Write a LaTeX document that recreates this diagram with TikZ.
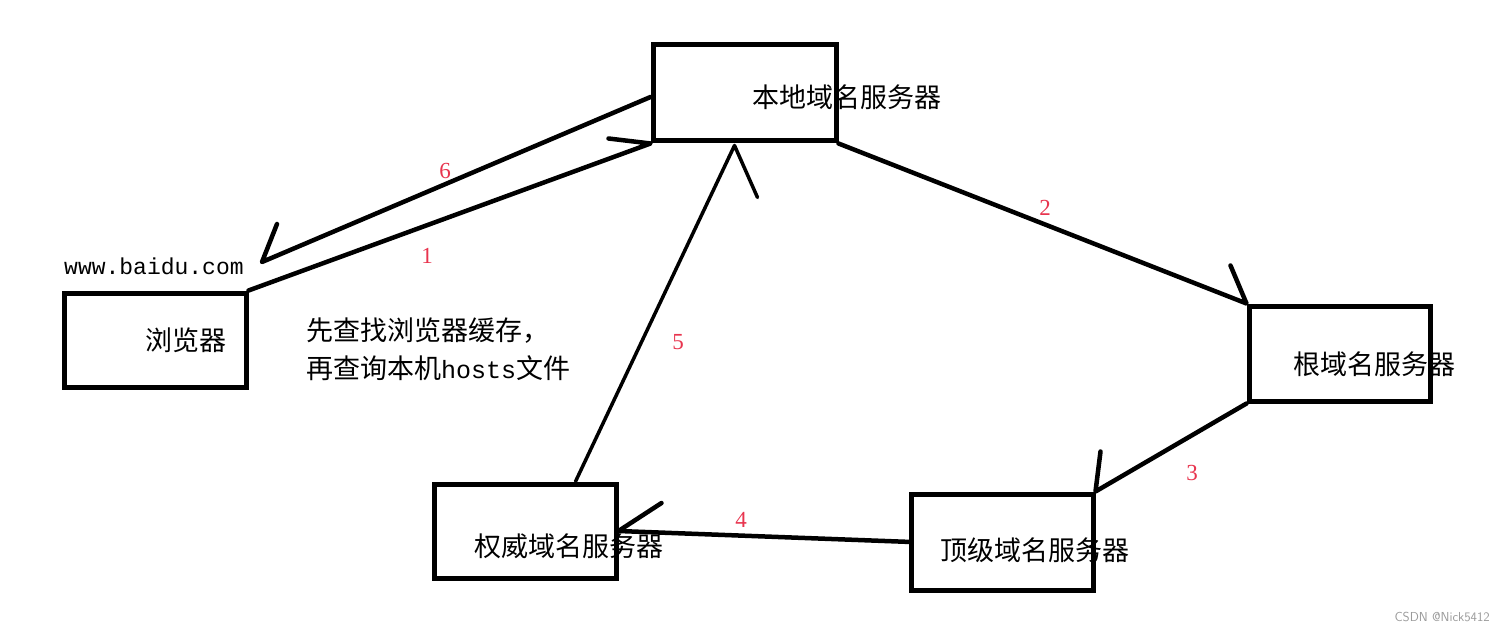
\documentclass[tikz,border=0pt]{standalone}
\usepackage{fontspec}
\setmainfont{Liberation Serif}
\newfontfamily\cjk{Noto Sans CJK SC}
\newfontfamily\monof{Liberation Mono}
\definecolor{numred}{HTML}{E8344E}
\definecolor{wmgray}{HTML}{9A9A9A}
\begin{document}
\begin{tikzpicture}[x=1pt,y=-1pt,
  box/.style={draw=black,line width=5pt,rectangle,inner sep=0pt},
  conn/.style={draw=black,line width=4.5pt,line cap=round,line join=round},
  thinconn/.style={draw=black,line width=3.5pt,line cap=round,line join=round},
  lbl/.style={font=\cjk\fontsize{27}{31}\selectfont,anchor=west,inner sep=0pt},
  num/.style={font=\fontsize{23}{25}\selectfont,text=numred,inner sep=0pt}]
\useasboundingbox[fill=white] (0,0) rectangle (1504,631);

% boxes
\node[box,minimum width=182pt,minimum height=94pt] (browser) at (155,340) {};
\node[box,minimum width=183pt,minimum height=96pt] (local) at (744.5,93) {};
\node[box,minimum width=181pt,minimum height=95pt] (root) at (1339.5,353.5) {};
\node[box,minimum width=182pt,minimum height=94pt] (auth) at (525,531) {};
\node[box,minimum width=182pt,minimum height=96pt] (tld) at (1002,542) {};

% box texts
\node[lbl] (tlocal) at (752,97) {本地域名服务器};
\node[lbl] (tbrowser) at (145,340) {浏览器};
\node[lbl] (troot) at (1293,364) {根域名服务器};
\node[lbl] (tauth) at (474,546) {权威域名服务器};
\node[lbl] (ttld) at (940,550) {顶级域名服务器};

% other texts
\node[font=\monof\fontsize{23}{26}\selectfont,anchor=west,inner sep=0pt] (url) at (64,266) {www.baidu.com};
\node[lbl] (note1) at (306,331) {先查找浏览器缓存，};
\node[lbl] (note2) at (306,368) {再查询本机{\monof\fontsize{25}{29}\selectfont hosts}文件};

% connectors
\coordinate (c6) at (262,262);
\draw[conn] (browser.north east) -- (local.south west) -- ++(-42,-5);
\draw[conn] (local.south east) -- (root.north west) -- ++(-16,-38);
\draw[conn] (root.south west) -- (tld.north east) -- ++(5,-40);
\draw[conn] ([xshift=3pt]tld.west) -- (auth.east) -- ++(43,-28);
\draw[thinconn] ([xshift=-43pt]auth.north east) -- ([xshift=-10pt,yshift=-2pt]local.south) -- ++(23,52);
\draw[conn] ([yshift=-4pt]local.west) -- (c6) -- ++(15,-38);

% numbers
\node[num] (n6) at (445,171) {6};
\node[num] (n1) at (427,256) {1};
\node[num] (n2) at (1045,208) {2};
\node[num] (n3) at (1192,473) {3};
\node[num] (n4) at (741,520) {4};
\node[num] (n5) at (678,342) {5};

% watermark
\node[font=\sffamily\fontsize{13}{15}\selectfont,text=wmgray,anchor=east,inner sep=0pt] (wm) at (1490,617) {CSDN @Nick5412};
\end{tikzpicture}
\end{document}
